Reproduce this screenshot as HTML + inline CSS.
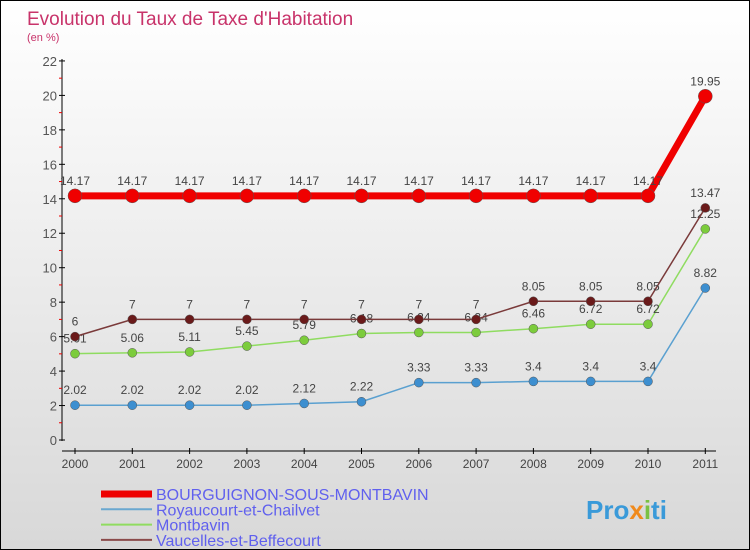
<!DOCTYPE html>
<html><head><meta charset="utf-8"><style>
body{margin:0;}
#c{width:748px;height:548px;border:1px solid #000;background:linear-gradient(#fff,#d8d8d8);position:relative;overflow:hidden;font-family:"Liberation Sans",sans-serif;}
</style></head><body>
<div id="c">
<svg id="s" width="748" height="548" style="position:absolute;left:0;top:0">
<text x="26" y="24" font-size="19" fill="#c8336a">Evolution du Taux de Taxe d'Habitation</text>
<text x="26" y="40" font-size="11" fill="#c8336a">(en %)</text>
<text x="585" y="518" font-size="26" font-weight="bold" fill="#3a9ad9">Pro<tspan fill="#f08a1c">x</tspan><tspan fill="#7ac143">i</tspan>ti</text>
</svg>
</div>
<script>
const years=[2000,2001,2002,2003,2004,2005,2006,2007,2008,2009,2010,2011];
const bourg=[14.17,14.17,14.17,14.17,14.17,14.17,14.17,14.17,14.17,14.17,14.17,19.95];
const roy=[2.02,2.02,2.02,2.02,2.12,2.22,3.33,3.33,3.4,3.4,3.4,8.82];
const mont=[5.01,5.06,5.11,5.45,5.79,6.18,6.24,6.24,6.46,6.72,6.72,12.25];
const vauc=[6,7,7,7,7,7,7,7,8.05,8.05,8.05,13.47];
const yTicks=[0,2,4,6,8,10,12,14,16,18,20,22];
const s=document.getElementById('s');const NS='http://www.w3.org/2000/svg';
const X=i=>74+i*57.3, Y=v=>439-v*17.23;
function mk(t,a,p){const e=document.createElementNS(NS,t);for(const k in a)e.setAttribute(k,a[k]);(p||s).appendChild(e);return e;}
let ax=mk('line',{x1:61,y1:58,x2:61,y2:440,stroke:'#000'});


let xa=mk('line',{x1:61,y1:450,x2:715,y2:450,stroke:'#000'});


yTicks.forEach(v=>{mk('line',{x1:58,y1:Y(v),x2:64,y2:Y(v),stroke:'#000'});
 if(v<22)mk('line',{x1:58,y1:Y(v+1),x2:61,y2:Y(v+1),stroke:'#e00'});
 const t=mk('text',{x:56,y:Y(v)+5,'text-anchor':'end','font-size':13,fill:'#555'});t.textContent=v;
 
 });
years.forEach((y,i)=>{mk('line',{x1:X(i),y1:447,x2:X(i),y2:453,stroke:'#000'});
 const t=mk('text',{x:X(i),y:467,'text-anchor':'middle','font-size':12,fill:'#444'});t.textContent=y;
 
 });
function series(d,col,dot,w,r,name){const g=mk('g',{});
 
 
 mk('polyline',{points:d.map((v,i)=>X(i)+','+Y(v)).join(' '),fill:'none',stroke:col,'stroke-width':w},g);
 d.forEach((v,i)=>{const c=mk('circle',{cx:X(i),cy:Y(v),r:r,fill:dot,stroke:'#555','stroke-width':0.5},g);
  
  
  const t=mk('text',{x:X(i),y:Y(v)-11,'text-anchor':'middle','font-size':12,fill:'#444'},g);t.textContent=v;
  
  });}
series(roy,'#5aa0d0','#3d8fd0',1.5,4.5,'royaucourt-series');
series(mont,'#8fdc60','#7ccc3c',1.5,4.5,'montbavin-series');
series(vauc,'#7a3a3a','#6a1a1a',1.5,4.5,'vaucelles-series');
series(bourg,'#f00000','#f00000',7,7,'bourguignon-series');
const leg=[['BOURGUIGNON-SOUS-MONTBAVIN','#e00',7],['Royaucourt-et-Chailvet','#6aa8d0',2],['Montbavin','#90dc60',2],['Vaucelles-et-Beffecourt','#8a4a4a',2]];
leg.forEach((l,i)=>{const y=493+i*15.3;const g=mk('g',{});
 
 
 mk('line',{x1:100,y1:y,x2:151,y2:y,stroke:l[1],'stroke-width':l[2]},g);
 const t=mk('text',{x:155,y:y+6,'font-size':16,fill:'#6060ee'},g);t.textContent=l[0];});
</script>
</body></html>
